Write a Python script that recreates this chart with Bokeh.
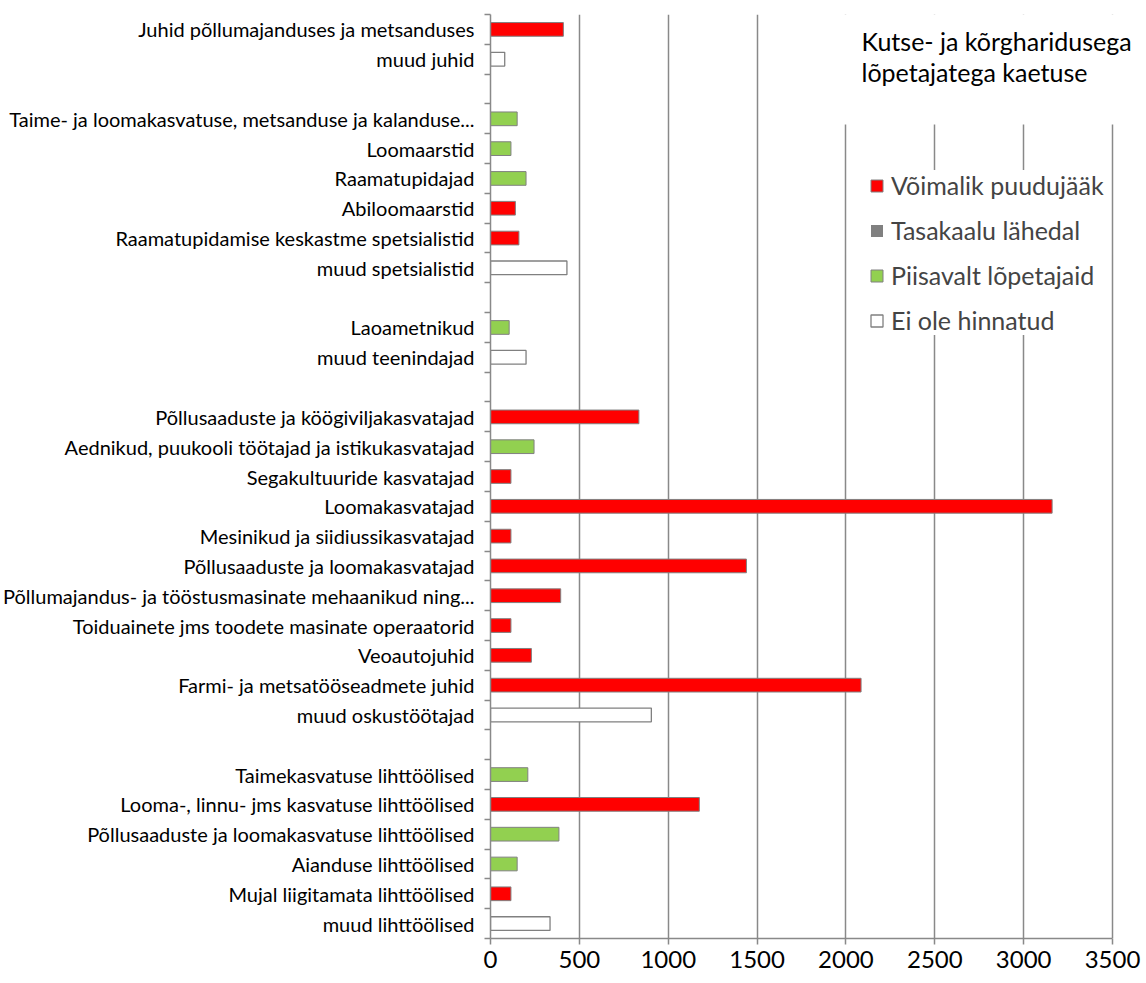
from bokeh.plotting import figure
from bokeh.models import (Range1d, FixedTicker, Legend, LegendItem, BoxAnnotation,
                          Label, ColumnDataSource, LinearAxis, CustomLabelingPolicy,
                          CustomJSTickFormatter)
from bokeh.embed import file_html
from bokeh.resources import INLINE

# ---------------- data ----------------
occupations = [
    "Juhid põllumajanduses ja metsanduses",
    "muud juhid",
    "",
    "Taime- ja loomakasvatuse, metsanduse ja kalanduse...",
    "Loomaarstid",
    "Raamatupidajad",
    "Abiloomaarstid",
    "Raamatupidamise keskastme spetsialistid",
    "muud spetsialistid",
    "",
    "Laoametnikud",
    "muud teenindajad",
    "",
    "Põllusaaduste ja köögiviljakasvatajad",
    "Aednikud, puukooli töötajad ja istikukasvatajad",
    "Segakultuuride kasvatajad",
    "Loomakasvatajad",
    "Mesinikud ja siidiussikasvatajad",
    "Põllusaaduste ja loomakasvatajad",
    "Põllumajandus- ja tööstusmasinate mehaanikud ning...",
    "Toiduainete jms toodete masinate operaatorid",
    "Veoautojuhid",
    "Farmi- ja metsatööseadmete juhid",
    "muud oskustöötajad",
    "",
    "Taimekasvatuse lihttöölised",
    "Looma-, linnu- jms kasvatuse lihttöölised",
    "Põllusaaduste ja loomakasvatuse lihttöölised",
    "Aianduse lihttöölised",
    "Mujal liigitamata lihttöölised",
    "muud lihttöölised",
]
values = [410, 80, None, 150, 115, 200, 140, 160, 430, None, 105, 200, None,
          835, 245, 115, 3160, 115, 1440, 395, 115, 230, 2085, 905, None,
          210, 1175, 385, 150, 115, 335]
# 0 = Võimalik puudujääk, 1 = Tasakaalu lähedal, 2 = Piisavalt lõpetajaid, 3 = Ei ole hinnatud
status = [0, 3, None, 2, 2, 2, 0, 0, 3, None, 2, 3, None,
          0, 2, 0, 0, 0, 0, 0, 0, 0, 0, 3, None,
          2, 0, 2, 2, 0, 3]
legend_names = ["Võimalik puudujääk", "Tasakaalu lähedal", "Piisavalt lõpetajaid", "Ei ole hinnatud"]
fill_colors = ["#FF0000", "#808080", "#92D050", "#FFFFFF"]
x_ticks = [0, 500, 1000, 1500, 2000, 2500, 3000, 3500]
title_lines = ["Kutse- ja kõrgharidusega", "lõpetajatega kaetuse"]

# ---------------- layout (pixels) ----------------
W, H = 1146, 983
FRAME_L, FRAME_T, FRAME_B = 489, 14, 938
AXIS_END_PX = 1112          # where 3500 sits
FONT = "Lato"
GRAY = "#898989"
n = len(occupations)

x_max = x_ticks[-1]
px_per_unit = (AXIS_END_PX - FRAME_L) / x_max
x_end = x_max + (W - AXIS_END_PX) / px_per_unit

p = figure(width=W, height=H, output_backend="svg", toolbar_location=None,
           x_range=Range1d(0, x_end), y_range=Range1d(n - 0.5, -0.5),
           y_axis_location=None,
           min_border_left=FRAME_L, min_border_right=0, min_border_top=FRAME_T,
           min_border_bottom=H - FRAME_B)
p.outline_line_color = None
p.background_fill_color = "white"

renderers = []
for k, name in enumerate(legend_names):
    idx = [i for i in range(n) if status[i] == k]
    if idx:
        src = ColumnDataSource(dict(y=idx, right=[values[i] for i in idx]))
    else:  # category with no bars: keep a legend entry only
        src = ColumnDataSource(dict(y=[float("nan")], right=[float("nan")]))
    r = p.hbar(y="y", left=0, right="right", height=0.46, source=src,
               fill_color=fill_colors[k],
               line_color=None if k == 1 else "#808080",
               line_width=1.3 if k == 3 else 1.0)
    renderers.append(r)

# x axis
xa = p.xaxis[0]
xa.ticker = FixedTicker(ticks=x_ticks)
xa.bounds = (0, x_max)
xa.axis_line_color = GRAY
xa.axis_line_width = 1.5
xa.major_tick_line_color = GRAY
xa.major_tick_line_width = 1.5
xa.major_tick_out = 6
xa.major_tick_in = 0
xa.minor_tick_line_color = None
xa.major_label_text_font = FONT
xa.major_label_text_font_size = "24px"
xa.major_label_text_color = "black"
xa.major_label_standoff = 6

# y axis: tick marks between categories (inner axis, no labels) + labels at centres (outer axis)
boundaries = [i - 0.5 for i in range(n + 1)]
ya_ticks = LinearAxis(ticker=FixedTicker(ticks=boundaries),
                      formatter=CustomJSTickFormatter(code="return ''"),
                      axis_line_color=GRAY, axis_line_width=1.5,
                      major_tick_line_color=GRAY, major_tick_line_width=1.5,
                      major_tick_out=6, major_tick_in=0,
                      minor_tick_line_color=None,
                      major_label_policy=CustomLabelingPolicy(code="return []"),
                      major_label_standoff=0)
p.add_layout(ya_ticks, "left")
ya_labels = LinearAxis(ticker=FixedTicker(ticks=list(range(n))),
                       major_label_overrides={i: occupations[i] for i in range(n)},
                       axis_line_color=None, major_tick_line_color=None,
                       major_tick_out=0, major_tick_in=0, minor_tick_line_color=None,
                       major_label_text_font=FONT, major_label_text_font_size="20px",
                       major_label_text_color="black", major_label_standoff=10)
p.add_layout(ya_labels, "left")

p.xgrid.ticker = FixedTicker(ticks=x_ticks)
p.xgrid.grid_line_color = GRAY
p.xgrid.grid_line_width = 1.5
p.ygrid.grid_line_color = None

# white box behind the chart title (hides gridlines)
row_px = (FRAME_B - FRAME_T) / n
p.add_layout(BoxAnnotation(left=1900, top=-0.5, bottom=-0.5 + (124 - FRAME_T) / row_px,
                           fill_color="white", fill_alpha=1, line_color=None))

for j, t in enumerate(title_lines):
    p.add_layout(Label(x=860 - FRAME_L, y=FRAME_B - 40 - 31 * j,
                       x_units="screen", y_units="screen",
                       text=t, text_font=FONT, text_font_size="25px",
                       text_baseline="middle", text_color="black"))

legend = Legend(items=[LegendItem(label=legend_names[k], renderers=[renderers[k]]) for k in range(4)],
                location=(379, 603), orientation="vertical",
                glyph_width=15, glyph_height=15, label_standoff=7,
                label_text_font=FONT, label_text_font_size="25px",
                spacing=15, padding=8, margin=0,
                background_fill_color="white", background_fill_alpha=1,
                border_line_color=None)
p.add_layout(legend)

open("out.html", "w").write(file_html(p, INLINE))
